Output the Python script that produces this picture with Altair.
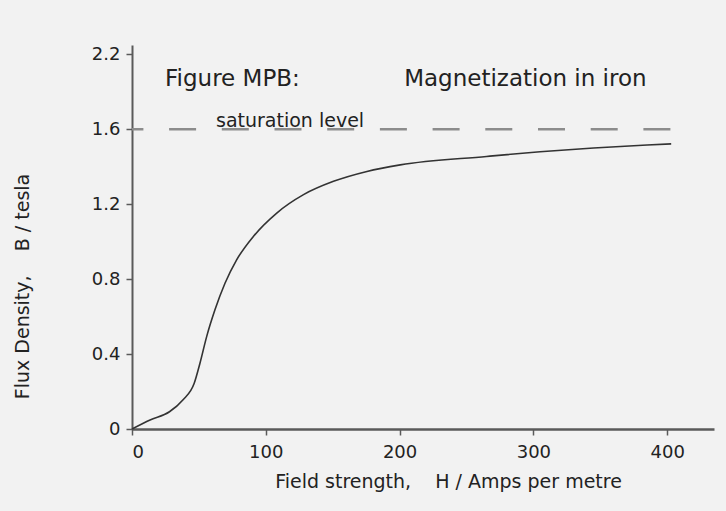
import altair as alt
import pandas as pd

# ---- data ----
H_values = [0, 13.5, 28, 38, 46.5, 50.8, 55.8, 62, 69.5, 78.2, 90.7, 108.2, 128.2, 150.6, 175.6, 200.5, 265, 305, 345, 385, 403]
B_values = [0, 0.048, 0.092, 0.155, 0.244, 0.351, 0.493, 0.636, 0.778, 0.903, 1.028, 1.153, 1.251, 1.322, 1.375, 1.41, 1.455, 1.48, 1.50, 1.516, 1.522]

saturation_H = [0, 403]
saturation_B = [1.6, 1.6]

x_tick_values = [0, 100, 200, 300, 400]
y_tick_values = [0, 0.4, 0.8, 1.2, 1.6, 2.0]
y_tick_labels = ["0", "0.4", "0.8", "1.2", "1.6", "2.2"]

annot_text = ["Figure MPB:", "Magnetization in iron", "saturation level"]
annot_H = [24.7, 203.4, 62.8]
annot_B = [1.87, 1.87, 1.612]

FONT = "DejaVu Sans"

curve_df = pd.DataFrame({"H": H_values, "B": B_values})
sat_df = pd.DataFrame({"H": saturation_H, "B": saturation_B})
title_df = pd.DataFrame({"H": annot_H[:2], "B": annot_B[:2], "t": annot_text[:2]})
sat_lbl_df = pd.DataFrame({"H": annot_H[2:], "B": annot_B[2:], "t": annot_text[2:]})

# label expression built from the tick lists
expr = "''"
for v, l in reversed(list(zip(y_tick_values, y_tick_labels))):
    expr = f"abs(datum.value - {v}) < 1e-6 ? '{l}' : ({expr})"

x_scale = alt.Scale(domain=[0, 435], nice=False, zero=True)
y_scale = alt.Scale(domain=[0, 2.05], nice=False, zero=True)

x_axis = alt.Axis(
    values=x_tick_values, title="Field strength,\u00a0\u00a0\u00a0\u00a0H / Amps per metre",
    grid=False, domainColor="#5a5a5a", domainWidth=2.5, tickColor="#5a5a5a", tickWidth=1.5,
    tickSize=6, labelFont=FONT, labelFontSize=18, labelColor="#222222", labelPadding=8,
    titleFont=FONT, titleFontSize=19, titleFontWeight="normal", titleColor="#222222",
    titleX=316, titleY=52, titleBaseline="middle", titleAlign="center",
)
y_axis = alt.Axis(
    values=y_tick_values, labelExpr=expr, title="Flux Density,\u00a0\u00a0\u00a0\u00a0B / tesla",
    grid=False, domainColor="#5a5a5a", domainWidth=2, tickColor="#5a5a5a", tickWidth=1.5,
    tickSize=6, labelFont=FONT, labelFontSize=18, labelColor="#222222", labelPadding=6,
    titleFont=FONT, titleFontSize=19, titleFontWeight="normal", titleColor="#222222",
    titleX=-110, titleY=241, titleBaseline="middle", titleAlign="center", titleAngle=270,
)

sat_line = alt.Chart(sat_df).mark_line(
    color="#8c8c8c", strokeWidth=2.5, strokeDash=[27, 25.7], strokeDashOffset=15.6, clip=False
).encode(
    x=alt.X("H:Q", scale=x_scale, axis=x_axis),
    y=alt.Y("B:Q", scale=y_scale, axis=y_axis),
)

curve = alt.Chart(curve_df).mark_line(
    color="#333333", strokeWidth=1.6, interpolate="monotone"
).encode(x=alt.X("H:Q", scale=x_scale), y=alt.Y("B:Q", scale=y_scale))

titles = alt.Chart(title_df).mark_text(
    font=FONT, fontSize=23, color="#222222", align="left", baseline="middle"
).encode(x=alt.X("H:Q", scale=x_scale), y=alt.Y("B:Q", scale=y_scale), text="t:N")

sat_label = alt.Chart(sat_lbl_df).mark_text(
    font=FONT, fontSize=19, color="#222222", align="left", baseline="alphabetic"
).encode(x=alt.X("H:Q", scale=x_scale), y=alt.Y("B:Q", scale=y_scale), text="t:N")

chart = alt.layer(sat_line, curve, titles, sat_label).properties(
    width=582, height=384,
    autosize=alt.AutoSizeParams(type="none"),
    padding={"left": 132, "top": 45, "right": 12, "bottom": 82},
    background="#f2f2f2",
).configure_view(stroke=None)

chart.save("out.html", embed_options={"renderer": "svg", "actions": False})
